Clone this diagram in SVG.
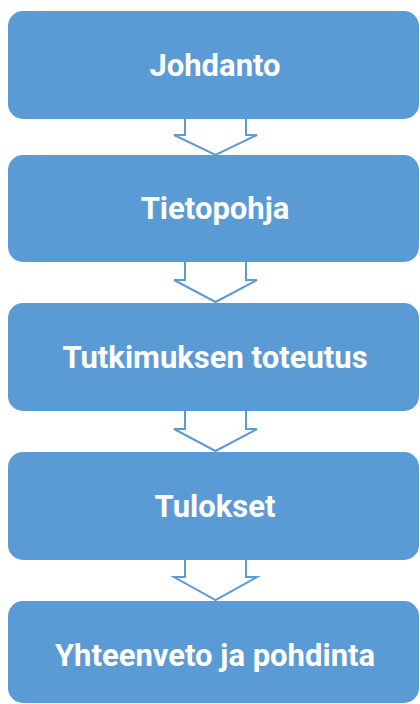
<svg xmlns="http://www.w3.org/2000/svg" width="420" height="704" viewBox="0 0 420 704">
<style>
.box{fill:#5B9BD5;}
.lbl{fill:#FFFFFF;font-family:Roboto,"Liberation Sans",sans-serif;font-weight:bold;font-size:31px;text-anchor:middle;}
.arr{fill:#FFFFFF;stroke:#5B9BD5;stroke-width:2;stroke-linejoin:miter;}
</style>
<rect width="420" height="704" fill="#FFFFFF"/>
<g id="connectors">
<path class="arr" d="M185,118 V135 H174 L215.5,155 L257,135 H246 V118"/>
<path class="arr" d="M185,262 V280 H174 L215.5,302 L257,280 H246 V262"/>
<path class="arr" d="M185,411 V429 H174 L215.5,451 L257,429 H246 V411"/>
<path class="arr" d="M185,559 V577 H174 L215.5,600 L257,577 H246 V559"/>
</g>
<g id="n1"><rect class="box" x="8" y="11" width="411" height="108" rx="15"/><text class="lbl" x="215" y="76">Johdanto</text></g>
<g id="n2"><rect class="box" x="8" y="155" width="411" height="107" rx="15"/><text class="lbl" x="215" y="219">Tietopohja</text></g>
<g id="n3"><rect class="box" x="8" y="303" width="411" height="108" rx="15"/><text class="lbl" x="215" y="368">Tutkimuksen toteutus</text></g>
<g id="n4"><rect class="box" x="8" y="452" width="411" height="108" rx="15"/><text class="lbl" x="215" y="517">Tulokset</text></g>
<g id="n5"><rect class="box" x="8" y="601" width="411" height="102" rx="15"/><text class="lbl" x="215" y="666">Yhteenveto ja pohdinta</text></g>
</svg>
